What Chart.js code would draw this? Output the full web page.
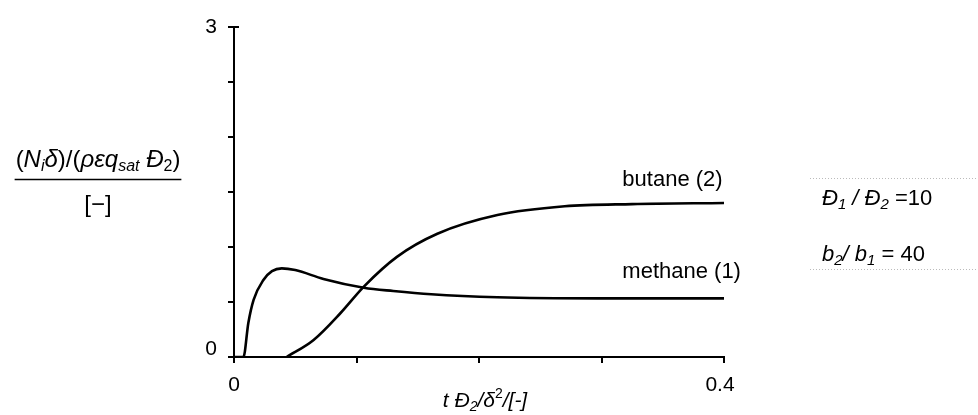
<!DOCTYPE html>
<html>
<head>
<meta charset="utf-8">
<script src="https://cdn.jsdelivr.net/npm/chart.js@4.4.1/dist/chart.umd.min.js"></script>
<style>
  html, body { margin: 0; padding: 0; background: #fff; }
  #wrap { width: 978px; height: 415px; position: relative; }
</style>
</head>
<body>
<div id="wrap"><canvas id="c" width="978" height="415"></canvas></div>
<script>
// ---- data ----
const methaneX = [0, 0.0077, 0.0117, 0.016, 0.024, 0.031, 0.039, 0.05, 0.073, 0.106, 0.13, 0.161, 0.215, 0.297, 0.4];
const methaneY = [0, 0, 0.31, 0.52, 0.70, 0.78, 0.806, 0.79, 0.71, 0.63, 0.60, 0.57, 0.543, 0.533, 0.533];
const butaneX = [0.043, 0.065, 0.087, 0.106, 0.133, 0.166, 0.215, 0.27, 0.325, 0.4];
const butaneY = [0, 0.155, 0.40, 0.64, 0.91, 1.12, 1.29, 1.37, 1.39, 1.40];
const seriesNames = ['methane (1)', 'butane (2)'];
const xTickValues = [0, 0.4];
const xTickLabels = ['0', '0.4'];
const yTickValues = [0, 3];
const yTickLabels = ['0', '3'];
const seriesLabelPos = [[0.317, 0.77], [0.317, 1.61]]; // data coords of in-plot labels

const toPts = (xs, ys) => xs.map((x, i) => ({ x: x, y: ys[i] }));

const FONT = '"Liberation Sans", Arial, Helvetica, sans-serif';
const SUB = 0.68;

function fontFor(st, size) {
  const it = st.indexOf('i') === 0 ? 'italic ' : '';
  if (st.endsWith('sub') || st === 'sup') return it + Math.round(size * SUB) + 'px ' + FONT;
  return it + size + 'px ' + FONT;
}
function drawRich(ctx, parts, x, y, size) {
  let cx = x;
  for (const [t, st] of parts) {
    let dy = 0;
    if (st.endsWith('sub')) dy = size * 0.28;
    else if (st === 'sup') dy = -size * 0.33;
    ctx.font = fontFor(st, size);
    ctx.fillText(t, cx, y + dy);
    cx += ctx.measureText(t).width;
  }
  return cx - x;
}
function measureRich(ctx, parts, size) {
  let w = 0;
  for (const [t, st] of parts) { ctx.font = fontFor(st, size); w += ctx.measureText(t).width; }
  return w;
}

const textPlugin = {
  id: 'texts',
  afterDraw(chart) {
    const ctx = chart.ctx;
    const xs = chart.scales.x, ys = chart.scales.y;
    ctx.save();
    // T-shaped cap at top of y axis
    ctx.strokeStyle = '#000';
    ctx.lineWidth = 2;
    ctx.beginPath();
    const topY = ys.getPixelForValue(ys.max);
    ctx.moveTo(xs.left - 6, topY); ctx.lineTo(xs.left + 5, topY);
    ctx.stroke();

    ctx.fillStyle = '#000';
    ctx.textBaseline = 'middle';
    // tick labels
    ctx.font = '21px ' + FONT;
    ctx.textAlign = 'right';
    yTickValues.forEach((v, i) => {
      const py = ys.getPixelForValue(v) - (v === 0 ? 8 : 0);
      ctx.fillText(yTickLabels[i], xs.left - 17, py);
    });
    ctx.textAlign = 'center';
    xTickValues.forEach((v, i) => {
      const px = xs.getPixelForValue(v) - (i === xTickValues.length - 1 ? 4 : 0);
      ctx.fillText(xTickLabels[i], px, ys.bottom + 28);
    });
    // series labels
    ctx.textAlign = 'left';
    ctx.font = '22px ' + FONT;
    seriesNames.forEach((n, i) => {
      ctx.fillText(n, xs.getPixelForValue(seriesLabelPos[i][0]), ys.getPixelForValue(seriesLabelPos[i][1]));
    });
    // y axis title (fraction)
    ctx.textAlign = 'left';
    const num = [['(', 'n'], ['N', 'i'], ['i', 'isub'], ['δ', 'i'], [')/(', 'n'], ['ρεq', 'i'], ['sat', 'isub'], [' Ɖ', 'i'], ['2', 'sub'], [')', 'n']];
    const fs = 24;
    const wNum = measureRich(ctx, num, fs);
    const cxT = 98;
    drawRich(ctx, num, cxT - wNum / 2, 160, fs);
    ctx.beginPath();
    ctx.lineWidth = 1.5;
    ctx.strokeStyle = '#000';
    ctx.moveTo(cxT - wNum / 2 - 1, 179.5);
    ctx.lineTo(cxT + wNum / 2 + 1, 179.5);
    ctx.stroke();
    ctx.font = fs + 'px ' + FONT;
    ctx.textAlign = 'center';
    ctx.fillText('[\u2212]', cxT, 205);
    // x axis title
    ctx.textAlign = 'left';
    const xt = [['t Ɖ', 'i'], ['2', 'isub'], ['/δ', 'i'], ['2', 'sup'], ['/[-]', 'i']];
    const xfs = 21;
    const wx = measureRich(ctx, xt, xfs);
    drawRich(ctx, xt, 485 - wx / 2, 401, xfs);
    // parameter box
    const p1 = [['Ɖ', 'i'], ['1', 'isub'], [' / Ɖ', 'i'], ['2', 'isub'], [' =10', 'n']];
    const p2 = [['b', 'i'], ['2', 'isub'], ['/ b', 'i'], ['1', 'isub'], [' = 40', 'n']];
    drawRich(ctx, p1, 822, 199, 22);
    drawRich(ctx, p2, 822, 255, 22);
    ctx.strokeStyle = '#bbb';
    ctx.lineWidth = 1;
    ctx.setLineDash([1, 2]);
    ctx.beginPath();
    ctx.moveTo(810, 178.5); ctx.lineTo(976, 178.5);
    ctx.moveTo(810, 269.5); ctx.lineTo(976, 269.5);
    ctx.stroke();
    ctx.restore();
  }
};

new Chart(document.getElementById('c'), {
  type: 'line',
  data: {
    datasets: [
      { label: seriesNames[0], data: toPts(methaneX, methaneY) },
      { label: seriesNames[1], data: toPts(butaneX, butaneY) }
    ]
  },
  options: {
    responsive: false,
    animation: false,
    events: [],
    layout: { padding: { left: 228, right: 254, top: 27, bottom: 52 } },
    elements: {
      point: { radius: 0 },
      line: { borderColor: '#000', borderWidth: 2.6, cubicInterpolationMode: 'monotone', fill: false }
    },
    plugins: { legend: { display: false }, tooltip: { enabled: false } },
    scales: {
      x: {
        type: 'linear', min: 0, max: 0.4,
        ticks: { display: false, stepSize: 0.1 },
        grid: { display: true, drawOnChartArea: false, drawTicks: true, tickLength: 6, color: '#000', lineWidth: 2 },
        border: { display: true, color: '#000', width: 2 },
        afterFit: s => { s.height = 6; }
      },
      y: {
        type: 'linear', min: 0, max: 3,
        ticks: { display: false, stepSize: 0.5 },
        grid: { display: true, drawOnChartArea: false, drawTicks: true, tickLength: 6, color: '#000', lineWidth: 2 },
        border: { display: true, color: '#000', width: 2 },
        afterFit: s => { s.width = 6; }
      }
    }
  },
  plugins: [textPlugin]
});
</script>
</body>
</html>
